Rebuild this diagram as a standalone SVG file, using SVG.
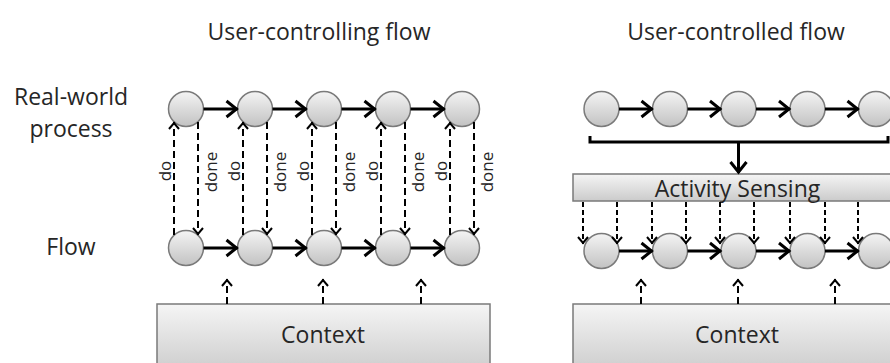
<svg xmlns="http://www.w3.org/2000/svg" width="890" height="363" viewBox="0 0 890 363">
<defs>
<linearGradient id="gc" x1="0" y1="0" x2="0" y2="1"><stop offset="0" stop-color="#f4f4f4"/><stop offset="1" stop-color="#c2c2c2"/></linearGradient>
<linearGradient id="gb" x1="0" y1="0" x2="0" y2="1"><stop offset="0" stop-color="#f5f5f5"/><stop offset="1" stop-color="#cbcbcb"/></linearGradient>
<marker id="ah" markerUnits="userSpaceOnUse" viewBox="-14 -11 16 22" markerWidth="16" markerHeight="22" refX="0" refY="0" orient="auto"><path d="M-11,-8 L-1,0 L-11,8" fill="none" stroke="#000" stroke-width="3" stroke-linejoin="miter"/></marker>
<marker id="ahd" markerUnits="userSpaceOnUse" viewBox="-10 -8 12 16" markerWidth="12" markerHeight="16" refX="0" refY="0" orient="auto"><path d="M-7,-5 L-1,0 L-7,5" fill="none" stroke="#000" stroke-width="2"/></marker>
</defs>
<style>
text{font-family:"Open Sans","Liberation Sans",sans-serif;fill:#262626}
.t{font-size:23px;text-anchor:middle}
.s{font-size:17px;text-anchor:middle}
.c{fill:url(#gc);stroke:#7a7a7a;stroke-width:1.5}
.b{fill:url(#gb);stroke:#7a7a7a;stroke-width:1.5}
.a{fill:none;stroke:#000;stroke-width:3;marker-end:url(#ah)}
.d{fill:none;stroke:#000;stroke-width:2;stroke-dasharray:7 4;marker-end:url(#ahd)}
.d2{fill:none;stroke:#000;stroke-width:2;stroke-dasharray:5 3;marker-end:url(#ahd)}
.br{fill:none;stroke:#000;stroke-width:3}
</style>
<g id="labels">
<text class="t" x="319" y="40">User-controlling flow</text>
<text class="t" x="736" y="40">User-controlled flow</text>
<text class="t" x="71" y="105">Real-world</text>
<text class="t" x="71" y="137">process</text>
<text class="t" x="71" y="255">Flow</text>
</g>
<g id="context-left"><rect class="b" x="157" y="304" width="333" height="70"/><text class="t" x="323" y="343">Context</text></g>
<g id="context-right"><rect class="b" x="573" y="304" width="330" height="70"/><text class="t" x="737" y="343">Context</text></g>
<g id="activity-sensing"><rect class="b" x="573" y="174" width="330" height="27"/><text class="t" x="737.5" y="197">Activity Sensing</text></g>
<g id="left-real">
<circle class="c" cx="186" cy="109" r="17.5"/><circle class="c" cx="255" cy="109" r="17.5"/><circle class="c" cx="324" cy="109" r="17.5"/><circle class="c" cx="393" cy="109" r="17.5"/><circle class="c" cx="462" cy="109" r="17.5"/>
</g>
<g id="left-flow">
<circle class="c" cx="186" cy="248" r="17.5"/><circle class="c" cx="255" cy="248" r="17.5"/><circle class="c" cx="324" cy="248" r="17.5"/><circle class="c" cx="393" cy="248" r="17.5"/><circle class="c" cx="462" cy="248" r="17.5"/>
</g>
<g id="right-real">
<circle class="c" cx="601.5" cy="109" r="17.5"/><circle class="c" cx="670" cy="109" r="17.5"/><circle class="c" cx="738.5" cy="109" r="17.5"/><circle class="c" cx="807.5" cy="109" r="17.5"/><circle class="c" cx="876" cy="109" r="17.5"/>
</g>
<g id="right-flow">
<circle class="c" cx="601.5" cy="251" r="17.5"/><circle class="c" cx="670" cy="251" r="17.5"/><circle class="c" cx="738.5" cy="251" r="17.5"/><circle class="c" cx="807.5" cy="251" r="17.5"/><circle class="c" cx="876" cy="251" r="17.5"/>
</g>
<g id="connectors">
<path class="a" d="M203.5,109H237.5"/><path class="a" d="M272.5,109H306.5"/><path class="a" d="M341.5,109H375.5"/><path class="a" d="M410.5,109H444.5"/>
<path class="a" d="M203.5,248H237.5"/><path class="a" d="M272.5,248H306.5"/><path class="a" d="M341.5,248H375.5"/><path class="a" d="M410.5,248H444.5"/>
<path class="a" d="M619,109H652.5"/><path class="a" d="M687.5,109H721"/><path class="a" d="M756,109H790"/><path class="a" d="M825,109H858.5"/>
<path class="a" d="M619,251H652.5"/><path class="a" d="M687.5,251H721"/><path class="a" d="M756,251H790"/><path class="a" d="M825,251H858.5"/>
<path class="d" d="M174,235V122"/><path class="d" d="M198,122V235"/>
<path class="d" d="M243,235V122"/><path class="d" d="M267,122V235"/>
<path class="d" d="M312,235V122"/><path class="d" d="M336,122V235"/>
<path class="d" d="M381,235V122"/><path class="d" d="M405,122V235"/>
<path class="d" d="M450,235V122"/><path class="d" d="M474,122V235"/>
<path class="d" d="M227,304V279"/><path class="d" d="M323,304V279"/><path class="d" d="M421,304V279"/>
<path class="d" d="M641,304V279"/><path class="d" d="M738,304V279"/><path class="d" d="M835,304V279"/>
<path class="br" d="M590,136V142H888V136"/>
<path class="a" d="M738.5,142V173"/>
<path class="d2" d="M583,202V244"/><path class="d2" d="M617,202V244"/><path class="d2" d="M652,202V244"/><path class="d2" d="M686,202V244"/><path class="d2" d="M720,202V244"/><path class="d2" d="M754,202V244"/><path class="d2" d="M790,202V244"/><path class="d2" d="M825,202V244"/><path class="d2" d="M858,202V244"/>
</g>
<g id="do-done">
<text class="s" transform="translate(171,171) rotate(-90)">do</text>
<text class="s" transform="translate(217,172) rotate(-90)">done</text>
<text class="s" transform="translate(240,171) rotate(-90)">do</text>
<text class="s" transform="translate(286,172) rotate(-90)">done</text>
<text class="s" transform="translate(309,171) rotate(-90)">do</text>
<text class="s" transform="translate(355,172) rotate(-90)">done</text>
<text class="s" transform="translate(378,171) rotate(-90)">do</text>
<text class="s" transform="translate(424,172) rotate(-90)">done</text>
<text class="s" transform="translate(447,171) rotate(-90)">do</text>
<text class="s" transform="translate(493,172) rotate(-90)">done</text>
</g>
</svg>
